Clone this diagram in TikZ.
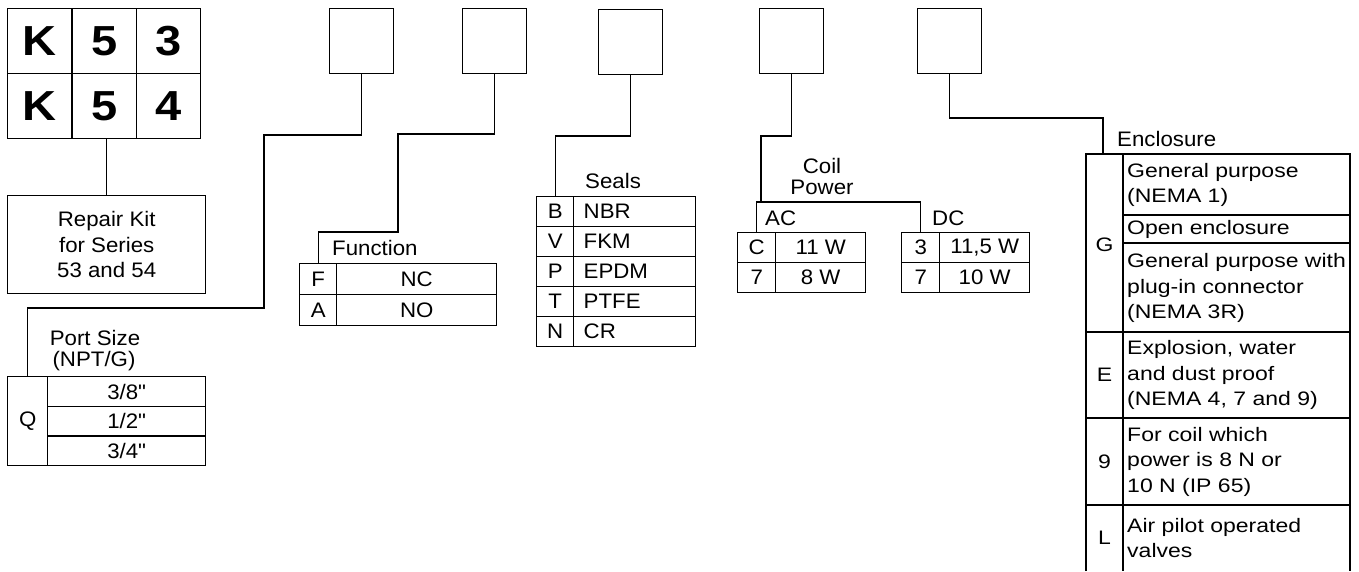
\documentclass[tikz,border=0pt]{standalone}
\usepackage{fontspec}
\newfontfamily\arl[FakeStretch=1.06]{Liberation Sans}
\newfontfamily\arlw[FakeStretch=1.18]{Liberation Sans}
\newfontfamily\arlb[FakeStretch=1.12]{Liberation Sans Bold}
\newcommand\txt{\arl\fontsize{21}{25.5}\selectfont}
\newcommand\enctxt{\arlw\fontsize{19.5}{25.5}\selectfont}
\newcommand\bigtxt{\arlb\fontsize{42}{42}\selectfont}
\tikzset{
  conn/.style={line width=1.4pt},
  cell/.style={draw, line width=1.4pt, inner sep=0pt, anchor=north west, font=\txt},
  lbl/.style={inner sep=0pt, font=\txt},
  enc/.style={inner sep=0pt, font=\enctxt},
  codebox/.style={draw, line width=1.4pt, inner sep=0pt, anchor=north west, minimum width=64pt, minimum height=65pt},
  kcell/.style={cell, font=\bigtxt, minimum height=65pt},
}
\begin{document}
\begin{tikzpicture}[x=1pt,y=-1pt]
\useasboundingbox (0,0) rectangle (1359,571);

% K53 / K54 grid
\node[kcell, minimum width=64.3pt] (k1) at (7,8) {K};
\node[kcell, minimum width=64.3pt] (k2) at (71.3,8) {5};
\node[kcell, minimum width=64.4pt] (k3) at (135.6,8) {3};
\node[kcell, minimum width=64.3pt] (k4) at (7,73) {K};
\node[kcell, minimum width=64.3pt] (k5) at (71.3,73) {5};
\node[kcell, minimum width=64.4pt] (k6) at (135.6,73) {4};

\node[cell, minimum width=198pt, minimum height=98pt, align=center] (repair) at (7,195) {Repair Kit\\for Series\\53 and 54};
\draw[conn] (k5.south -| repair.north) -- (repair.north);

% code boxes
\node[codebox] (b1) at (329,8) {};
\node[codebox] (b2) at (462,8) {};
\node[codebox] (b3) at (598,9) {};
\node[codebox] (b4) at (759,8) {};
\node[codebox] (b5) at (917,8) {};

% Port size
\node[lbl, anchor=base] (ps1) at (95,345) {Port Size};
\node[lbl, anchor=base] (ps2) at (94,366) {(NPT/G)};
\node[cell, minimum width=40pt, minimum height=89pt] (q) at (7,376) {Q};
\node[cell, minimum width=158pt, minimum height=29.7pt] (p1) at (47,376) {3/8"};
\node[cell, minimum width=158pt, minimum height=29.7pt] (p2) at (47,405.7) {1/2"};
\node[cell, minimum width=158pt, minimum height=29.7pt] (p3) at (47,435.3) {3/4"};
\draw[conn] (b1.south) |- (264,135) |- (q.north |- 0,308) -- (q.north);

% Function
\node[lbl, anchor=base west] (func) at (332,255) {Function};
\node[cell, minimum width=37pt, minimum height=31pt] (fF) at (299,263) {F};
\node[cell, minimum width=160pt, minimum height=31pt] (fNC) at (336,263) {NC};
\node[cell, minimum width=37pt, minimum height=31pt] (fA) at (299,294) {A};
\node[cell, minimum width=160pt, minimum height=31pt] (fNO) at (336,294) {NO};
\draw[conn] (b2.south) |- (398,134) |- (fF.north |- 0,232) -- (fF.north);

% Seals
\node[lbl, anchor=base west] (seals) at (585,188) {Seals};
\foreach \c/\m/\k in {B/NBR/0, V/FKM/1, P/EPDM/2, T/PTFE/3, N/CR/4}{
  \node[cell, minimum width=37pt, minimum height=30pt] (s\c) at (536,196+30*\k) {\c};
  \node[cell, minimum width=122pt, minimum height=30pt, text width=102pt, align=left] (m\c) at (573,196+30*\k) {\m};
}
\draw[conn] (b3.south) |- (sB.north |- 0,136) -- (sB.north);

% Coil power
\node[lbl, anchor=base] (coil1) at (822,173) {Coil};
\node[lbl, anchor=base] (coil2) at (822,194) {Power};
\node[lbl, anchor=base west] (ac) at (765,225) {AC};
\node[lbl, anchor=base west] (dc) at (932,225) {DC};
\node[cell, minimum width=38pt, minimum height=30pt] (acC) at (737,232) {C};
\node[cell, minimum width=90pt, minimum height=30pt] (ac11) at (775,232) {11 W};
\node[cell, minimum width=38pt, minimum height=30pt] (ac7) at (737,262) {7};
\node[cell, minimum width=90pt, minimum height=30pt] (ac8) at (775,262) {8 W};
\node[cell, minimum width=38pt, minimum height=30pt] (dc3) at (901,232) {3};
\node[cell, minimum width=90pt, minimum height=30pt] (dc115) at (939,232) {11,5 W};
\node[cell, minimum width=38pt, minimum height=30pt] (dc7) at (901,262) {7};
\node[cell, minimum width=90pt, minimum height=30pt] (dc10) at (939,262) {10 W};
\coordinate (cp) at (761,202);
\draw[conn] (b4.south) |- (cp |- 0,136) -- (cp);
\draw[conn] (acC.north) |- (dc3.north |- cp) -- (dc3.north);

% Enclosure
\node[lbl, anchor=base west] (encl) at (1117,146) {Enclosure};
\coordinate (enc) at (1103,154);
\draw[conn] (b5.south) |- (enc |- 0,118) -- (enc);
\draw[conn] (1086,571) -- (1086,154) -- (1350,154) -- (1350,571);
\draw[conn] (1123,154) -- (1123,571);
\draw[conn] (1123,215) -- (1350,215);
\draw[conn] (1123,243) -- (1350,243);
\draw[conn] (1086,332) -- (1350,332);
\draw[conn] (1086,418) -- (1350,418);
\draw[conn] (1086,505) -- (1350,505);
\node[enc] (eG) at (1104.5,245) {G};
\node[enc, anchor=west, align=left] (e1) at (1127,185) {General purpose\\(NEMA 1)};
\node[enc, anchor=west, align=left] (e2) at (1127,229) {Open enclosure};
\node[enc, anchor=west, align=left] (e3) at (1127,288) {General purpose with\\plug-in connector\\(NEMA 3R)};
\node[enc] (eE) at (1104.5,375) {E};
\node[enc, anchor=west, align=left] (e4) at (1127,375) {Explosion, water\\and dust proof\\(NEMA 4, 7 and 9)};
\node[enc] (e9) at (1104.5,461.5) {9};
\node[enc, anchor=west, align=left] (e5) at (1127,461.5) {For coil which\\power is 8 N or\\10 N (IP 65)};
\node[enc] (eL) at (1104.5,538) {L};
\node[enc, anchor=west, align=left] (e6) at (1127,538) {Air pilot operated\\valves};
\end{tikzpicture}
\end{document}
